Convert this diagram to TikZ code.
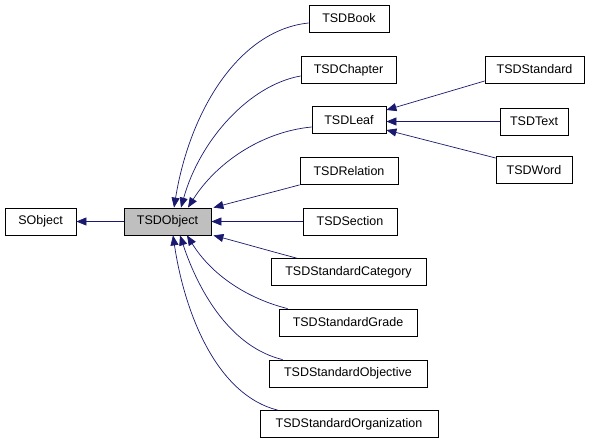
\documentclass[tikz,border=0pt]{standalone}
\usepackage{fontspec}
\setmainfont{Liberation Sans}
\usetikzlibrary{arrows.meta}
\definecolor{edgeblue}{HTML}{191970}
\definecolor{boxgray}{HTML}{BFBFBF}
\begin{document}
\begin{tikzpicture}[x=1pt,y=-1pt,
  cls/.style={draw=black,line width=0.8pt,rectangle,inner sep=0pt,minimum height=27pt,font=\fontsize{12.5}{14}\selectfont,text=black},
  inh/.style={draw=edgeblue,line width=0.7pt,-{Triangle[length=10pt,width=8pt]},fill=none},
]
\useasboundingbox (0,0) rectangle (592,442);
\fill[white] (0,0) rectangle (592,442);
\node[cls,minimum width=71pt] (sobj) at (40.5,221.5) {SObject};
\node[cls,minimum width=87pt,fill=boxgray] (obj) at (167.5,221.5) {TSDObject};
\node[cls,minimum width=80pt] (book) at (349,18.5) {TSDBook};
\node[cls,minimum width=95pt] (chap) at (348.5,70) {TSDChapter};
\node[cls,minimum width=74pt] (leaf) at (349,120) {TSDLeaf};
\node[cls,minimum width=98pt] (rel) at (349,171) {TSDRelation};
\node[cls,minimum width=94pt] (sec) at (350,221.5) {TSDSection};
\node[cls,minimum width=155pt] (cat) at (348.5,272) {TSDStandardCategory};
\node[cls,minimum width=138pt] (grade) at (348,322.5) {TSDStandardGrade};
\node[cls,minimum width=158pt] (objv) at (348,373.5) {TSDStandardObjective};
\node[cls,minimum width=178pt] (org) at (349,424) {TSDStandardOrganization};
\node[cls,minimum width=99pt] (std) at (534.5,69.5) {TSDStandard};
\node[cls,minimum width=68pt] (txt) at (534,121.5) {TSDText};
\node[cls,minimum width=76pt] (word) at (534,170) {TSDWord};

\draw[inh] (obj.west) -- (sobj.east);
\draw[inh] ([yshift=-4.5pt]book.west) .. controls +(-69,7) and +(16,-98) .. ([xshift=6.5pt]obj.north);
\draw[inh] ([yshift=-6pt]chap.west) .. controls +(-51,9) and +(19,-68) .. ([xshift=13.5pt]obj.north);
\draw[inh] ([yshift=-7pt]leaf.west) .. controls +(-52,5) and +(27,-43) .. ([xshift=20.5pt]obj.north);
\draw[inh] (rel.south west) .. controls +(-30,8) and +(30,-8) .. ([xshift=2pt]obj.north east);
\draw[inh] (sec.west) -- (obj.east);
\draw[inh] ([xshift=26pt]cat.north west) .. controls +(-30,-8) and +(30,8) .. ([xshift=2pt]obj.south east);
\draw[inh] ([xshift=9pt]grade.north west) .. controls +(-40,-10) and +(25,40) .. ([xshift=19.5pt]obj.south);
\draw[inh] ([xshift=14pt]objv.north west) .. controls +(-50,-12) and +(20,60) .. ([xshift=12.5pt]obj.south);
\draw[inh] ([xshift=18pt]org.north west) .. controls +(-60,-15) and +(12,80) .. ([xshift=5.5pt]obj.south);
\draw[inh] ([yshift=-11.5pt]std.west) -- ([yshift=10pt]leaf.east);
\draw[inh] (txt.west) -- ([yshift=-1.5pt]leaf.east);
\draw[inh] ([yshift=12pt]word.west) -- ([yshift=-10pt]leaf.east);
\end{tikzpicture}
\end{document}
